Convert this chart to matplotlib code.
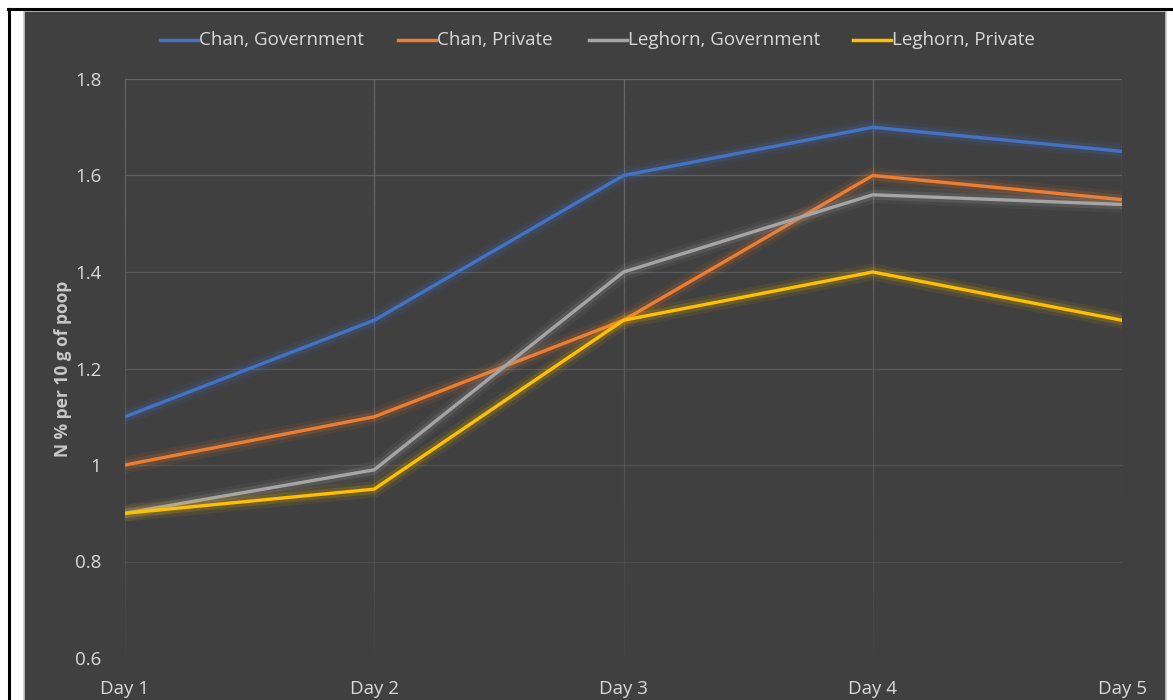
import matplotlib
matplotlib.use("Agg")
import numpy as np
import matplotlib.pyplot as plt
import matplotlib.patheffects as pe
from matplotlib.patches import Rectangle
from matplotlib.lines import Line2D
from matplotlib.collections import LineCollection

days = ["Day 1", "Day 2", "Day 3", "Day 4", "Day 5"]
chan_gov = [1.1, 1.3, 1.6, 1.7, 1.65]
chan_priv = [1.0, 1.1, 1.3, 1.6, 1.55]
leg_gov = [0.9, 0.99, 1.4, 1.56, 1.54]
leg_priv = [0.9, 0.95, 1.3, 1.4, 1.3]
series_names = ["Chan, Government", "Chan, Private", "Leghorn, Government", "Leghorn, Private"]
yticks = [0.6, 0.8, 1.0, 1.2, 1.4, 1.6, 1.8]
ytick_labels = ["0.6", "0.8", "1", "1.2", "1.4", "1.6", "1.8"]

COLORS = ["#4472C4", "#ED7D31", "#A5A5A5", "#FFC000"]
BG = "#404040"
TXT = "#d9d9d9"
W, H = 1173, 700

plt.rcParams['font.family'] = ['Open Sans', 'DejaVu Sans']

fig = plt.figure(figsize=(W / 100, H / 100), dpi=100)
fig.patch.set_facecolor("white")

# dark chart area with light border, plus black frame lines (left/top)
bg = Rectangle((24 / W, -0.01), 1142 / W, 689 / H + 0.01,
               transform=fig.transFigure, facecolor=BG,
               edgecolor="#c8c8c8", linewidth=1.2, zorder=-10)
fig.add_artist(bg)
fig.add_artist(Line2D([8.5 / W, 8.5 / W], [0, 691.5 / H], color="black",
                      linewidth=2.2, transform=fig.transFigure, zorder=-5))
fig.add_artist(Line2D([7.5 / W, 1], [691.5 / H, 691.5 / H], color="black",
                      linewidth=2.2, transform=fig.transFigure, zorder=-5))

ax = fig.add_axes([125 / W, 42 / H, 997 / W, 579 / H])
ax.set_facecolor("none")
x = list(range(len(days)))

# gridlines, fading towards the bottom like the original
grid_rgb = np.array([0.40, 0.40, 0.40])
for yv in yticks[1:]:
    a = 0.25 + 0.75 * (yv - 0.7) / 1.1
    ax.axhline(yv, color=grid_rgb, alpha=min(a, 1.0), linewidth=0.9, zorder=1)
ys = np.linspace(0.6, 1.8, 60)
for xv in x:
    segs = [[(xv, ys[i]), (xv, ys[i + 1])] for i in range(len(ys) - 1)]
    alphas = np.clip(0.1 + 0.9 * (ys[:-1] - 0.6) / 0.9, 0, 1)
    cols = [(*grid_rgb, a) for a in alphas]
    ax.add_collection(LineCollection(segs, colors=cols, linewidths=0.9, zorder=1))

all_series = [chan_gov, chan_priv, leg_gov, leg_priv]
for vals, name, col in zip(all_series, series_names, COLORS):
    ax.plot(x, vals, color=col, linewidth=2.4, label=name, zorder=3,
            solid_joinstyle="round",
            path_effects=[pe.Stroke(linewidth=12, foreground=col, alpha=0.08),
                          pe.Stroke(linewidth=7, foreground=col, alpha=0.16),
                          pe.Normal()])

ax.set_xlim(0, 4)
ax.set_ylim(0.6, 1.8)
ax.set_yticks(yticks)
ax.set_yticklabels(ytick_labels)
ax.set_xticks(x)
ax.set_xticklabels(days)
ax.tick_params(axis="y", length=0, pad=17, labelsize=13.5, labelcolor=TXT)
ax.tick_params(axis="x", length=0, pad=16, labelsize=13.5, labelcolor=TXT)
for s in ax.spines.values():
    s.set_visible(False)

ax.set_ylabel("N % per 10 g of poop", color="#c8c8c8", fontsize=12.5,
              fontweight="bold", labelpad=2)

# legend drawn by hand to match entry spacing
legend_x = [160, 398, 589, 853]
ly = 1 - 40 / H
for lx, name, col in zip(legend_x, series_names, COLORS):
    fig.add_artist(Line2D([lx / W, (lx + 38) / W], [ly, ly], color=col,
                          linewidth=2.5, transform=fig.transFigure))
    fig.text((lx + 39) / W, ly, name, color=TXT, fontsize=13.5,
             ha="left", va="center")

fig.savefig("out.png", dpi=100, facecolor=fig.get_facecolor())
